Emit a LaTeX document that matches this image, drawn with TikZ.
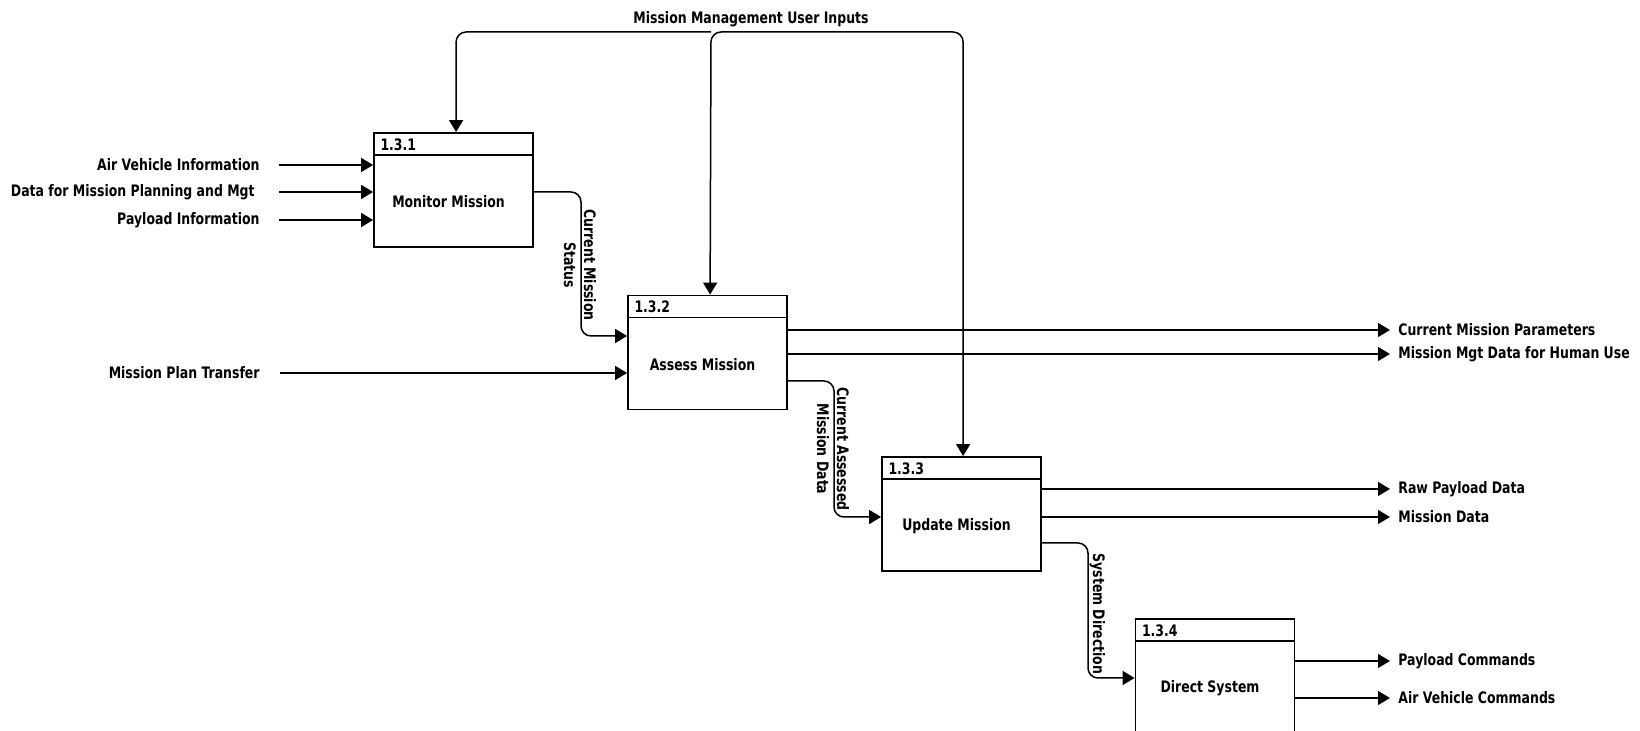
\documentclass[tikz,border=0pt]{standalone}
\usepackage{fontspec}
\setmainfont{DejaVu Sans}[FakeStretch=0.79]
\usetikzlibrary{arrows.meta,calc}
\begin{document}
\begin{tikzpicture}[x=0.5pt,y=-0.5pt,
  pbox/.style={draw, line width=0.9pt, minimum width=79.5pt, minimum height=57pt, inner sep=0pt},
  hdr/.style={line width=0.9pt},
  flow/.style={line width=0.75pt, -{Triangle[length=6pt,width=7pt]}, rounded corners=5pt},
  flowboth/.style={line width=0.75pt, {Triangle[length=6pt,width=7pt]}-{Triangle[length=6pt,width=7pt]}, rounded corners=5pt},
  lab/.style={font=\bfseries\fontsize{7.9}{10}\selectfont, inner sep=0pt},
  vlab/.style={lab, rotate=-90, align=center},
]
\clip (0,0) rectangle (1640,731);
\fill[white] (0,0) rectangle (1640,731);

% boxes
\node[pbox] (b1) at (453.5,190) {};
\node[pbox] (b2) at (707.5,352.5) {};
\node[pbox] (b3) at (961.5,514) {};
\node[pbox] (b4) at (1215,676) {};
\foreach \b/\n in {b1/1.3.1, b2/1.3.2, b3/1.3.3, b4/1.3.4}{
  \draw[hdr] ($(\b.north west)+(0,23)$) -- ($(\b.north east)+(0,23)$);
  \node[lab, anchor=west] (n\b) at ($(\b.north west)+(7,12.5)$) {\n};
}
\node[lab] (t1) at ($(b1.center)+(-5,12)$) {Monitor Mission};
\node[lab] (t2) at ($(b2.center)+(-5,12)$) {Assess Mission};
\node[lab] (t3) at ($(b3.center)+(-5,12)$) {Update Mission};
\node[lab] (t4) at ($(b4.center)+(-5,12)$) {Direct System};

% control input at the top
\node[lab] (mt) at (751,19) {Mission Management User Inputs};
\coordinate (k) at (711,32);
\coordinate (a1) at ($(b1.north west)+(83,0)$);
\coordinate (a2) at ($(b2.north west)+(83,0)$);
\coordinate (a3) at ($(b3.north west)+(82,0)$);
\draw[flow] (k) -| (a1);
\draw[flowboth] (a3) |- (k) -- (a2);

% inputs to 1.3.1
\node[lab, anchor=east] (l1) at (260,165) {Air Vehicle Information};
\node[lab, anchor=east] (l2) at (255,192) {Data for Mission Planning and Mgt};
\node[lab, anchor=east] (l3) at (260,220) {Payload Information};
\coordinate (s1) at (279,165);
\coordinate (s2) at (279,192);
\coordinate (s3) at (279,220);
\draw[flow] (s1) -- (s1 -| b1.west);
\draw[flow] (s2) -- (s2 -| b1.west);
\draw[flow] (s3) -- (s3 -| b1.west);

% input to 1.3.2
\node[lab, anchor=east] (l4) at (260,373) {Mission Plan Transfer};
\coordinate (s4) at (280,373);
\draw[flow] (s4) -- (s4 -| b2.west);

% internal flows
\coordinate (v1) at (581,336);
\draw[flow] ($(b1.east)+(0,2)$) -| (v1) -- (v1 -| b2.west);
\node[vlab] (cms) at (580,265) {Current Mission\\Status};

\coordinate (v2) at (834,517);
\draw[flow] ($(b2.east)+(0,28.5)$) -| (v2) -- (v2 -| b3.west);
\node[vlab] (cam) at (833,449) {Current Assessed\\Mission Data};

\coordinate (v3) at (1088,678);
\draw[flow] ($(b3.east)+(0,29)$) -| (v3) -- (v3 -| b4.west);
\node[vlab] (sd) at (1097.5,614) {System Direction};

% outputs
\coordinate (o1) at (1390,330);
\coordinate (o2) at (1390,354);
\coordinate (o3) at (1390,489);
\coordinate (o4) at (1390,517);
\coordinate (o5) at (1390,661);
\coordinate (o6) at (1390,698);
\draw[flow] (o1 -| b2.east) -- (o1);
\draw[flow] (o2 -| b2.east) -- (o2);
\draw[flow] (o3 -| b3.east) -- (o3);
\draw[flow] (o4 -| b3.east) -- (o4);
\draw[flow] (o5 -| b4.east) -- (o5);
\draw[flow] (o6 -| b4.east) -- (o6);
\node[lab, anchor=west] (p1) at (1398,330) {Current Mission Parameters};
\node[lab, anchor=west] (p2) at (1398,354) {Mission Mgt Data for Human Use};
\node[lab, anchor=west] (p3) at (1398,489) {Raw Payload Data};
\node[lab, anchor=west] (p4) at (1398,517) {Mission Data};
\node[lab, anchor=west] (p5) at (1398,661) {Payload Commands};
\node[lab, anchor=west] (p6) at (1398,698) {Air Vehicle Commands};
\end{tikzpicture}
\end{document}
